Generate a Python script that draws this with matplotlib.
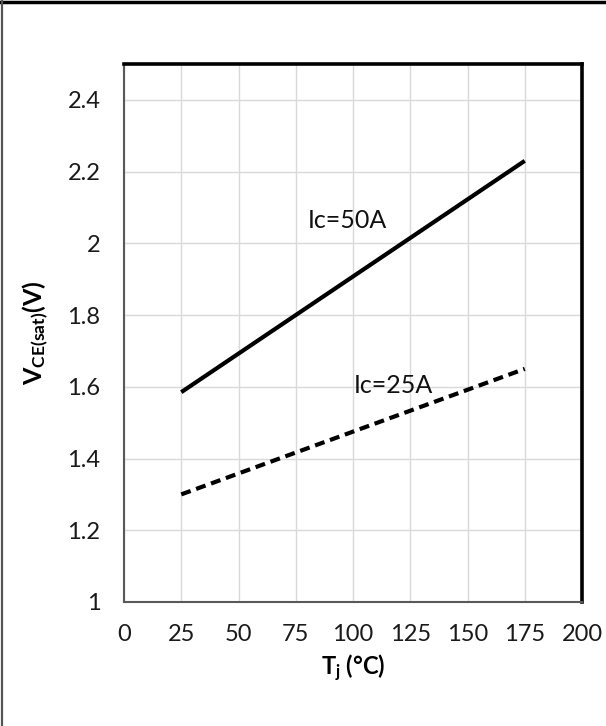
import matplotlib
matplotlib.use("Agg")
import matplotlib.pyplot as plt
from matplotlib.lines import Line2D

plt.rcParams['font.family'] = ['Lato', 'DejaVu Sans']
plt.rcParams['mathtext.fontset'] = 'custom'
plt.rcParams['mathtext.rm'] = 'Lato'
plt.rcParams['mathtext.it'] = 'Lato:italic'
plt.rcParams['mathtext.bf'] = 'Lato:bold'

# Data
tj = [25, 175]
vce_50A = [1.585, 2.23]
vce_25A = [1.30, 1.65]
x_ticks = [0, 25, 50, 75, 100, 125, 150, 175, 200]
y_ticks = [1, 1.2, 1.4, 1.6, 1.8, 2.0, 2.2, 2.4]
y_tick_labels = ['1', '1.2', '1.4', '1.6', '1.8', '2', '2.2', '2.4']
label_50A = 'Ic=50A'
label_25A = 'Ic=25A'

W, H = 606, 726
fig = plt.figure(figsize=(W / 100, H / 100), dpi=100)
ax = fig.add_axes([124 / W, 1 - 602 / H, (582 - 124) / W, (602 - 64) / H])

ax.plot(tj, vce_50A, color='black', lw=3.0, solid_capstyle='butt')
ax.plot(tj, vce_25A, color='black', lw=3.0, linestyle=(0, (2.4, 1.4)), dash_capstyle='butt')

ax.set_xlim(0, 200)
ax.set_ylim(1, 2.5)
ax.set_xticks(x_ticks)
ax.set_xticklabels([str(v) for v in x_ticks])
ax.set_yticks(y_ticks)
ax.set_yticklabels(y_tick_labels)
ax.tick_params(axis='both', length=0, labelsize=17, colors='#1a1a1a')
ax.tick_params(axis='y', pad=17)
ax.tick_params(axis='x', pad=16)

ax.grid(True, color='#d9d9d9', lw=1.0)
ax.set_axisbelow(True)

for side in ['top', 'right']:
    ax.spines[side].set_color('black')
    ax.spines[side].set_linewidth(2.6)
for side in ['left', 'bottom']:
    ax.spines[side].set_color('#595959')
    ax.spines[side].set_linewidth(1.5)

ax.text(97.4, 2.065, label_50A, fontsize=18, ha='center', va='center', color='#111111')
ax.text(117.5, 1.605, label_25A, fontsize=18, ha='center', va='center', color='#111111')

ax.set_xlabel(r'T$_{\mathbf{j}}$ (°C)', fontsize=17, fontweight='bold', labelpad=5)
ax.set_ylabel(r'V$_{\mathbf{CE(sat)}}$(V)', fontsize=18, fontweight='bold', labelpad=12)

# outer frame (top and left only)
fig.add_artist(Line2D([0, 1], [1 - 1.5 / H, 1 - 1.5 / H], transform=fig.transFigure, color='black', lw=2.5))
fig.add_artist(Line2D([2.5 / W, 2.5 / W], [0, 1], transform=fig.transFigure, color='#555555', lw=1.6))

fig.savefig('out.png', dpi=100)
